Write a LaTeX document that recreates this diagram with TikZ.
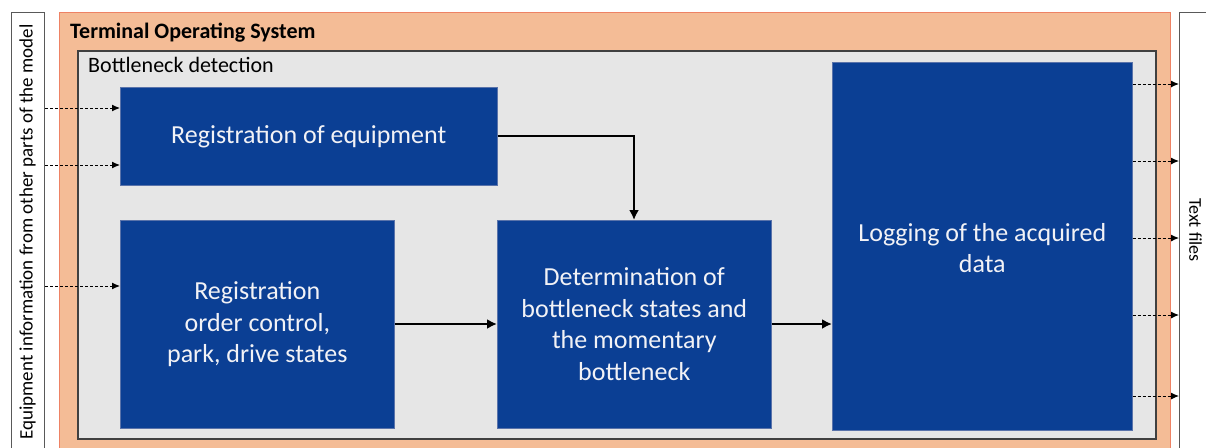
\documentclass[tikz,border=0pt]{standalone}
\usepackage{fontspec}
\setmainfont{Carlito}
\usetikzlibrary{arrows.meta}
\definecolor{tosfill}{RGB}{244,188,150}
\definecolor{tosline}{RGB}{238,130,100}
\definecolor{bnfill}{RGB}{230,230,230}
\definecolor{bnline}{RGB}{64,64,64}
\definecolor{blockfill}{RGB}{11,63,148}
\definecolor{blockline}{RGB}{90,115,170}
\definecolor{blocktext}{RGB}{242,242,246}
\definecolor{sideline}{RGB}{89,89,89}
\tikzset{
  block/.style={draw=blockline, line width=0.6pt, fill=blockfill, text=blocktext,
    anchor=north west, align=center, inner sep=0pt,
    font=\fontsize{26}{31.5}\selectfont},
  sidebox/.style={draw=sideline, line width=1.4pt, fill=white, anchor=north west, inner sep=0pt},
  flow/.style={line width=2.8pt, -{Latex[length=10pt,width=10pt]}},
  feed/.style={line width=1pt, dash pattern=on 3pt off 2pt, -{Latex[length=8pt,width=7pt]}},
}
\begin{document}
\begin{tikzpicture}[x=1pt,y=-1pt]
\useasboundingbox (0,0) rectangle (1206,447);
\clip (0,0) rectangle (1206,447);

% outer frames
\node[sidebox, minimum width=33pt, minimum height=460pt] (src) at (11,12) {};
\node[sidebox, minimum width=60pt, minimum height=460pt] (out) at (1179,12) {};
\node[draw=tosline, line width=1pt, fill=tosfill, anchor=north west, inner sep=0pt,
      minimum width=1111pt, minimum height=460pt] (tos) at (58.5,12) {};
\node[draw=bnline, line width=1.6pt, fill=bnfill, anchor=north west, inner sep=0pt,
      minimum width=1078pt, minimum height=388pt] (bn) at (77,50) {};

% frame titles
\node[anchor=base west, inner sep=0pt, font=\fontsize{22}{26}\selectfont\bfseries] (tostitle) at (70,38) {Terminal Operating System};
\node[anchor=base west, inner sep=0pt, font=\fontsize{22}{26}\selectfont] (bntitle) at (88,72) {Bottleneck detection};
\node[rotate=90, inner sep=0pt, font=\fontsize{19}{22}\selectfont] (srctext) at (27.5,232) {Equipment information from other parts of the model};
\node[rotate=-90, inner sep=0pt, font=\fontsize{18}{22}\selectfont] (outtext) at (1195.5,230) {Text files};

% processing blocks
\node[block, minimum width=377pt, minimum height=98pt] (regeq) at (120,87) {Registration of equipment};
\node[block, minimum width=274pt, minimum height=208pt] (regord) at (120,220) {Registration\\order control,\\park, drive states};
\node[block, minimum width=274pt, minimum height=208pt] (det) at (497,220) {Determination of\\bottleneck states and\\the momentary\\bottleneck};
\node[block, minimum width=300pt, minimum height=368pt] (log) at (832,62) {};
\node[align=center, text=blocktext, font=\fontsize{26}{31.5}\selectfont] (logtext) at (log.center |- 0,248) {Logging of the acquired\\data};

% main data flow
\coordinate (bend) at (634,136);
\draw[flow] (regeq.east |- bend) -- (bend) -- (det.north -| bend);
\draw[flow] (regord.east |- 0,324) -- (det.west |- 0,324);
\draw[flow] (det.east |- 0,324) -- (log.west |- 0,324);

% inputs from the model
\foreach \yy/\tgt in {108/regeq, 165/regeq, 286/regord}
  \draw[feed] (src.east |- 0,\yy) -- (\tgt.west |- 0,\yy);

% outputs to text files
\foreach \yy in {84,161,238,315,396}
  \draw[feed] (log.east |- 0,\yy) -- (out.west |- 0,\yy);
\end{tikzpicture}
\end{document}
